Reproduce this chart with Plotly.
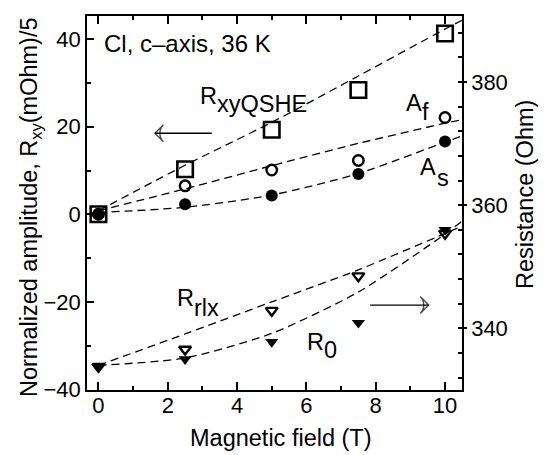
import plotly.graph_objects as go

# ---- data ----
field = [0, 2.5, 5, 7.5, 10]
r_xy_qshe = [0, 10.3, 19.3, 28.4, 41.3]      # left axis
a_f = [0, 6.5, 10.1, 12.3, 22.1]             # left axis
a_s = [0, 2.3, 4.3, 9.2, 16.6]               # left axis
r_rlx = [333.8, 336.6, 342.9, 348.5, 355.4]  # right axis (Ohm)
r_0 = [333.8, 335.0, 337.8, 340.9, 356.0]    # right axis (Ohm)

# dashed fit curves
fit_x = [0, 2.5, 5, 7.5, 10, 10.49]
fit_qshe = [0.8, 11.2, 21.0, 31.6, 42.3, 44.3]
fit_af = [0.8, 5.8, 11.1, 16.2, 20.8, 21.6]
fit_as = [0.4, 1.6, 4.4, 9.3, 16.5, 17.9]
fit_rlx = [334.0, 339.1, 344.3, 349.5, 355.4, 356.6]
fit_r0 = [334.0, 335.2, 339.2, 345.9, 355.3, 357.4]

FONT = "Liberation Sans, Arial, Helvetica, sans-serif"
TXT = 22
LAB = 23.5

fig = go.Figure()

dash_line = dict(color="black", width=1.3, dash="8px,5px")
for fy in (fit_qshe, fit_af, fit_as):
    fig.add_trace(go.Scatter(x=fit_x, y=fy, mode="lines",
                             line=dict(shape="spline", smoothing=0.7, **dash_line),
                             hoverinfo="skip", showlegend=False))
for fy in (fit_rlx, fit_r0):
    fig.add_trace(go.Scatter(x=fit_x, y=fy, mode="lines",
                             line=dict(shape="spline", smoothing=0.7, **dash_line),
                             yaxis="y2", hoverinfo="skip", showlegend=False))

fig.add_trace(go.Scatter(x=field, y=r_xy_qshe, mode="markers", showlegend=False,
                         marker=dict(symbol="square-open", size=15.5, color="black",
                                     line=dict(width=2.6, color="black"))))
fig.add_trace(go.Scatter(x=field, y=a_f, mode="markers", showlegend=False,
                         marker=dict(symbol="circle-open", size=10.5, color="black",
                                     line=dict(width=2.4, color="black"))))
fig.add_trace(go.Scatter(x=field, y=a_s, mode="markers", showlegend=False,
                         marker=dict(symbol="circle", size=12, color="black")))
fig.add_trace(go.Scatter(x=field, y=r_rlx, mode="markers", yaxis="y2", showlegend=False,
                         marker=dict(symbol="triangle-down-open", size=10.5, color="black",
                                     line=dict(width=2.4, color="black"))))
fig.add_trace(go.Scatter(x=field, y=r_0, mode="markers", yaxis="y2", showlegend=False,
                         marker=dict(symbol="triangle-down", size=11.5, color="black")))

# arrows (tail -> head) drawn as a line with an open arrow marker at the head
for (tx, hx, yy) in ((3.27, 1.63, 18.5), (7.84, 9.53, -20.75)):
    fig.add_trace(go.Scatter(x=[tx, hx], y=[yy, yy], mode="lines+markers", showlegend=False,
                             hoverinfo="skip", line=dict(color="black", width=1.4),
                             marker=dict(symbol=["circle", "arrow-wide-open"], size=[0, 12],
                                         angleref="previous", color="black",
                                         line=dict(width=1.4, color="black"))))

ann = []
def label(text, x, y, size=LAB):
    ann.append(dict(text=text, x=x, y=y, xref="x", yref="y", showarrow=False,
                    xanchor="left", yanchor="middle", font=dict(family=FONT, size=size, color="black")))

label("Cl, c–axis, 36 K", 0.1, 39.1, 24)
label("R", 2.87, 27.1)
label("xyQSHE", 3.36, 25.3)
label("A", 8.83, 25.35)
label("f", 9.29, 23.3)
label("A", 9.23, 10.7)
label("s", 9.70, 8.2)
label("R", 2.21, -19.2)
label("rlx", 2.70, -21.3)
label("R", 5.95, -29.1)
label("0", 6.46, -31.0)

L, R, T, B = 87, 83, 16, 65
W, H = 545, 455
pw, ph = W - L - R, H - T - B

def px(x):
    return (x - L) / pw

def py(y):
    return (H - B - y) / ph

ann.append(dict(text="Magnetic field (T)", x=px(280.8), y=py(438), xref="paper", yref="paper",
                showarrow=False, xanchor="center", yanchor="middle",
                font=dict(family=FONT, size=23.5, color="black")))
ann.append(dict(text="Normalized amplitude, R<sub>xy</sub>(mOhm)/5", x=px(30), y=py(208),
                xref="paper", yref="paper", showarrow=False, textangle=-90,
                xanchor="center", yanchor="middle", font=dict(family=FONT, size=23.5, color="black")))
ann.append(dict(text="Resistance (Ohm)", x=px(525), y=py(195), xref="paper", yref="paper",
                showarrow=False, textangle=-90, xanchor="center", yanchor="middle",
                font=dict(family=FONT, size=23.5, color="black")))

tickfont = dict(family=FONT, size=TXT, color="black")
xaxis = dict(range=[-0.33, 10.49], showgrid=False, zeroline=False, showline=True,
             linecolor="black", linewidth=1.5, mirror="ticks", ticks="inside", ticklen=8,
             tickwidth=1.5, tickcolor="black", tick0=0, dtick=2, tickfont=tickfont,
             minor=dict(ticks="inside", ticklen=4, tickwidth=1.5, tickcolor="black", dtick=1, tick0=0))
fig.update_layout(
    width=W, height=H,
    margin=dict(l=L, r=R, t=T, b=B, pad=0),
    paper_bgcolor="white", plot_bgcolor="white",
    annotations=ann,
    xaxis=xaxis,
    yaxis=dict(range=[-40.15, 45.3], showgrid=False, zeroline=False, showline=True,
               linecolor="black", linewidth=1.5, ticks="inside", ticklen=7, tickwidth=1.5,
               tickcolor="black", tick0=0, dtick=20, tickfont=tickfont,
               minor=dict(ticks="inside", ticklen=4.5, tickwidth=1.5, tickcolor="black", dtick=10, tick0=0)),
    yaxis2=dict(range=[330.0, 390.7], overlaying="y", side="right", showgrid=False, zeroline=False,
                showline=True, linecolor="black", linewidth=1.5, ticks="outside", ticklen=3,
                tickwidth=1.5, tickcolor="black", tick0=0, dtick=20, tickfont=tickfont,
                minor=dict(ticks="inside", ticklen=4.5, tickwidth=1.5, tickcolor="black", dtick=4, tick0=0)),
)
try:
    fig.update_xaxes(ticklabelstandoff=-5)
except Exception:
    pass

fig.write_html("out.html")
